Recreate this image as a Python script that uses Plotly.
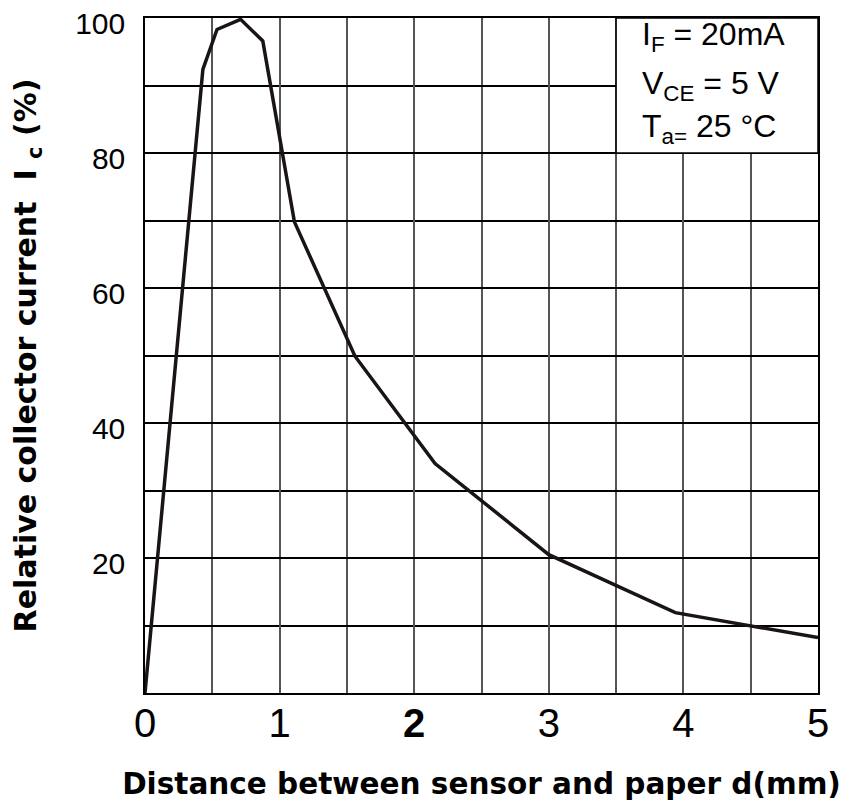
import plotly.graph_objects as go

distance_mm = [0, 0.43, 0.535, 0.71, 0.875, 1.11, 1.56, 2.155, 3.0, 3.94, 5.0]
relative_ic = [0, 92.4, 98.3, 99.8, 96.6, 69.8, 49.9, 34.0, 20.5, 11.9, 8.2]

x_tick_vals = [0, 1, 2, 3, 4, 5]
x_tick_text = ["0", "1", "<b>2</b>", "3", "4", "5"]
y_tick_vals = [20, 40, 60, 80, 100]
y_tick_text = ["20", "40", "60", "80", "100"]

cond_lines = ["I<sub>F</sub> = 20mA", "V<sub>CE</sub> = 5 V", "T<sub>a=</sub> 25 °C"]
cond_y = [97.3, 90.0, 83.6]

sans = "Liberation Sans, Arial, sans-serif"
wide_bold = "DejaVu Sans, Liberation Sans, sans-serif"

fig = go.Figure()
fig.add_trace(go.Scatter(
    x=distance_mm, y=relative_ic, mode="lines",
    line=dict(color="#1a1414", width=3.5), showlegend=False,
))

fig.add_shape(type="rect", xref="x", yref="y", x0=3.5, x1=5, y0=80, y1=100,
              fillcolor="white", line=dict(color="black", width=1.5), layer="between")

for txt, yy in zip(cond_lines, cond_y):
    fig.add_annotation(
        x=3.675, y=yy, xref="x", yref="y", xanchor="left", yanchor="middle",
        text=txt, showarrow=False, align="left",
        font=dict(family=sans, size=32, color="black"),
    )

fig.update_layout(
    width=857, height=807,
    margin=dict(l=137, r=47, t=10, b=122),
    paper_bgcolor="white", plot_bgcolor="white",
    xaxis=dict(
        range=[0, 5], tickvals=x_tick_vals, ticktext=x_tick_text,
        showgrid=True, gridcolor="#555555", gridwidth=1.5,
        minor=dict(dtick=0.5, showgrid=True, gridcolor="#555555", gridwidth=1.5),
        showline=True, linecolor="black", linewidth=1.5, mirror=True,
        ticks="", zeroline=False, automargin=False,
        ticklabeloverflow="allow", ticklabelstandoff=-6,
        tickfont=dict(family=sans, size=40, color="black"),
        title=dict(text="<b>Distance between sensor and paper d(mm)</b>",
                   font=dict(family=wide_bold, size=29.5, color="black"),
                   standoff=30),
    ),
    yaxis=dict(
        range=[0, 100], tickvals=y_tick_vals, ticktext=y_tick_text,
        showgrid=True, gridcolor="black", gridwidth=1.5,
        minor=dict(dtick=10, showgrid=True, gridcolor="black", gridwidth=1.5),
        showline=True, linecolor="black", linewidth=1.5, mirror=True,
        ticks="", zeroline=False, automargin=False,
        ticklabeloverflow="allow", ticklabelstandoff=12, ticklabelshift=5,
        tickfont=dict(family=sans, size=30, color="black"),
        title=dict(text="<b>Relative collector current  I <sub>c</sub> (%)</b>",
                   font=dict(family=wide_bold, size=30, color="black"),
                   standoff=41),
    ),
)

fig.write_html("out.html")
